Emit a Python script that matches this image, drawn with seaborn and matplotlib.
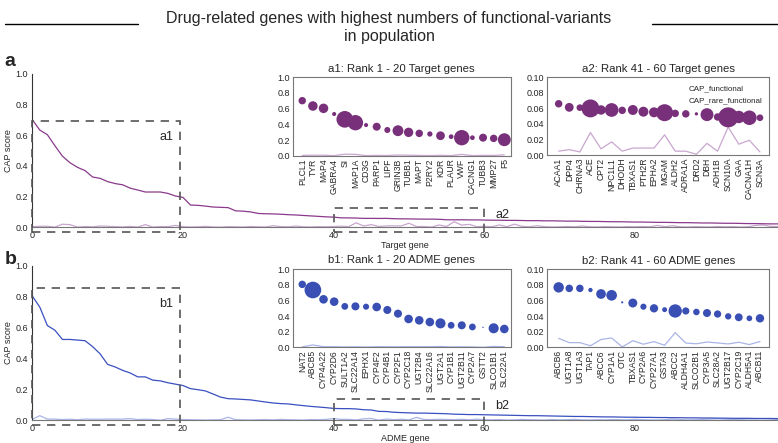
import numpy as np
import pandas as pd
import matplotlib
matplotlib.use("Agg")
import matplotlib.pyplot as plt
from matplotlib.patches import Rectangle
from matplotlib.lines import Line2D
import seaborn as sns

# ---------------- data ----------------
a1_genes = ["PLCL1", "TYR", "MAP4", "GABRA4", "SI", "MAP1A", "CD3G", "PARP1", "LIPF", "GRIN3B",
            "TUBB1", "MAPT", "P2RY2", "KDR", "PLAUR", "VWF", "CACNG1", "TUBB3", "MMP27", "F5"]
a2_genes = ["ACAA1", "DPP4", "CHRNA3", "ACE", "CPT2", "NPC1L1", "DHODH", "TBXAS1", "PTH2R", "EPHA2",
            "MGAM", "ALDH2", "ADRA1A", "DRD2", "DBH", "ADH1B", "SCN10A", "GAA", "CACNA1H", "SCN3A"]
b1_genes = ["NAT2", "ABCB5", "CYP4A22", "CYP2D6", "SULT1A2", "SLC22A14", "EPHX1", "CYP4F2", "CYP4B1", "CYP2F1",
            "CYP2C18", "UGT2B4", "SLC22A16", "UGT2A1", "CYP1B1", "UGT2B11", "CYP2A7", "GSTT2", "SLCO1B1", "SLC22A1"]
b2_genes = ["ABCB6", "UGT1A8", "UGT1A3", "TAP1", "ABCC6", "CYP1A1", "OTC", "TBXAS1", "CYP2A6", "CYP27A1",
            "GSTA3", "ABCC2", "ALDH4A1", "SLCO2B1", "CYP3A5", "SLC28A2", "UGT2B17", "CYP2C19", "ALDH5A1", "ABCB11"]

# Target genes: CAP_functional
t_func_1_20 = [0.702, 0.634, 0.604, 0.532, 0.464, 0.421, 0.391, 0.370, 0.328, 0.319,
               0.298, 0.285, 0.277, 0.255, 0.243, 0.230, 0.230, 0.230, 0.221, 0.204]
t_func_21_40 = [0.195, 0.145, 0.143, 0.138, 0.132, 0.130, 0.128, 0.107, 0.105, 0.100,
                0.090, 0.088, 0.087, 0.085, 0.082, 0.080, 0.077, 0.074, 0.071, 0.068]
t_func_41_60 = [0.066, 0.0614, 0.061, 0.060, 0.058, 0.058, 0.0575, 0.058, 0.0558, 0.055,
                0.0545, 0.0536, 0.053, 0.053, 0.052, 0.049, 0.0485, 0.049, 0.048, 0.048]
t_func_61_100 = [0.047, 0.046, 0.046, 0.045, 0.045, 0.044, 0.043, 0.043, 0.042, 0.042,
                 0.041, 0.040, 0.040, 0.039, 0.038, 0.038, 0.037, 0.036, 0.036, 0.035,
                 0.034, 0.034, 0.033, 0.032, 0.032, 0.031, 0.030, 0.030, 0.029, 0.028,
                 0.028, 0.027, 0.026, 0.026, 0.025, 0.024, 0.024, 0.023, 0.022, 0.022]
# Target genes: CAP_rare_functional
t_rare_1_20 = [0.004, 0.0065, 0.0065, 0.0012, 0.020, 0.017, 0.0012, 0.0046, 0.0026, 0.0085,
               0.0063, 0.004, 0.002, 0.0055, 0.0016, 0.017, 0.0016, 0.0046, 0.004, 0.012]
t_rare_21_40 = [0.004, 0.002, 0.003, 0.006, 0.002, 0.001, 0.004, 0.003, 0.002, 0.005,
                0.003, 0.002, 0.010, 0.004, 0.003, 0.008, 0.003, 0.002, 0.004, 0.003]
t_rare_41_60 = [0.005, 0.007, 0.004, 0.029, 0.008, 0.017, 0.005, 0.009, 0.009, 0.009,
                0.026, 0.005, 0.005, 0.001, 0.015, 0.005, 0.036, 0.014, 0.019, 0.004]
t_rare_61_100 = [0.006, 0.003, 0.015, 0.004, 0.020, 0.006, 0.003, 0.010, 0.004, 0.002,
                 0.003, 0.005, 0.003, 0.008, 0.003, 0.002, 0.004, 0.003, 0.002, 0.004,
                 0.003, 0.005, 0.003, 0.012, 0.004, 0.010, 0.003, 0.002, 0.004, 0.003,
                 0.002, 0.005, 0.003, 0.004, 0.002, 0.003, 0.012, 0.015, 0.006, 0.004]

# ADME genes: CAP_functional
d_func_1_20 = [0.804, 0.732, 0.613, 0.583, 0.523, 0.523, 0.519, 0.515, 0.477, 0.430,
               0.362, 0.345, 0.323, 0.306, 0.281, 0.281, 0.260, 0.255, 0.243, 0.234]
d_func_21_40 = [0.225, 0.205, 0.198, 0.190, 0.170, 0.150, 0.140, 0.138, 0.135, 0.132,
                0.125, 0.118, 0.112, 0.108, 0.106, 0.100, 0.095, 0.090, 0.086, 0.082]
d_func_41_60 = [0.0769, 0.0756, 0.0756, 0.0735, 0.0684, 0.0667, 0.0577, 0.0568, 0.0521, 0.050,
                0.0483, 0.0466, 0.0466, 0.0453, 0.044, 0.0427, 0.0397, 0.0385, 0.0372, 0.0372]
d_func_61_100 = [0.036, 0.035, 0.034, 0.033, 0.032, 0.031, 0.030, 0.030, 0.029, 0.028,
                 0.027, 0.026, 0.025, 0.025, 0.024, 0.023, 0.022, 0.022, 0.021, 0.020,
                 0.020, 0.019, 0.019, 0.018, 0.018, 0.017, 0.017, 0.016, 0.016, 0.015,
                 0.015, 0.014, 0.014, 0.013, 0.013, 0.013, 0.012, 0.012, 0.012, 0.011]
# ADME genes: CAP_rare_functional
d_rare_1_20 = [0.006, 0.030, 0.008, 0.008, 0.005, 0.007, 0.004, 0.008, 0.007, 0.007,
               0.008, 0.008, 0.008, 0.011, 0.005, 0.007, 0.005, 0.0002, 0.011, 0.008]
d_rare_21_40 = [0.005, 0.004, 0.003, 0.002, 0.003, 0.004, 0.020, 0.004, 0.003, 0.002,
                0.004, 0.005, 0.003, 0.006, 0.004, 0.003, 0.002, 0.005, 0.004, 0.006]
d_rare_41_60 = [0.0115, 0.006, 0.006, 0.002, 0.010, 0.012, 0.0005, 0.0085, 0.004, 0.0073,
                0.0026, 0.0188, 0.0055, 0.0045, 0.0068, 0.0056, 0.0043, 0.0065, 0.0035, 0.0075]
d_rare_61_100 = [0.004, 0.003, 0.005, 0.002, 0.003, 0.006, 0.004, 0.003, 0.002, 0.005,
                 0.003, 0.004, 0.006, 0.003, 0.002, 0.004, 0.003, 0.005, 0.004, 0.003,
                 0.007, 0.004, 0.003, 0.002, 0.004, 0.008, 0.005, 0.003, 0.004, 0.006,
                 0.008, 0.010, 0.007, 0.005, 0.006, 0.008, 0.009, 0.010, 0.008, 0.006]

main_xticks = [0, 20, 40, 60, 80]
main_yticks = [0.0, 0.2, 0.4, 0.6, 0.8, 1.0]
inset_small_yticks = [0.00, 0.02, 0.04, 0.06, 0.08, 0.10]

# ---------------- style ----------------
sns.set_style("white")
plt.rcParams["font.family"] = ["Liberation Sans", "DejaVu Sans"]

PURPLE_DOT = "#79307a"
PURPLE_LINE = "#8a3a8c"
PURPLE_LIGHT = "#c9a6cf"
BLUE_DOT = "#3a4fb4"
BLUE_LINE = "#3a50c0"
BLUE_LIGHT = "#a9b5e6"
BOX = "#555555"

fig = plt.figure(figsize=(7.78, 4.43), dpi=100)

# title
fig.text(0.5, 0.975, "Drug-related genes with highest numbers of functional-variants\nin population",
         ha="center", va="top", fontsize=11.5, linespacing=1.25)
fig.add_artist(Line2D([0.006, 0.178], [0.946, 0.946], color="black", lw=1.0))
fig.add_artist(Line2D([0.838, 1.0], [0.946, 0.946], color="black", lw=1.0))


def main_panel(rect, func, rare, c_line, c_light, xlabel, box1_top, box2_top, lab1, lab2, letter, letter_y):
    ax = fig.add_axes(rect)
    df = pd.DataFrame({"rank": np.arange(len(func)), "func": func, "rare": rare})
    sns.lineplot(data=df, x="rank", y="rare", ax=ax, color=c_light, lw=0.9, sort=False, estimator=None)
    sns.lineplot(data=df, x="rank", y="func", ax=ax, color=c_line, lw=0.9, sort=False, estimator=None)
    ax.set_xlim(0, 99)
    ax.set_ylim(0, 1.0)
    ax.set_xticks(main_xticks)
    ax.set_yticks(main_yticks)
    ax.set_yticklabels([f"{v:.1f}" for v in main_yticks])
    ax.tick_params(axis="both", labelsize=6.5, length=2, width=0.6, pad=1, color="#333333")
    ax.set_xlabel(xlabel, fontsize=6.5, labelpad=0.5)
    ax.set_ylabel("CAP score", fontsize=6.5, labelpad=2)
    for s in ["top", "right"]:
        ax.spines[s].set_visible(False)
    ax.spines["left"].set_color("#333333")
    ax.spines["bottom"].set_color("#777777")
    ax.spines["left"].set_linewidth(0.8)
    ax.spines["bottom"].set_linewidth(0.8)
    ax.set_facecolor("none")
    # dashed zoom boxes
    ax.add_patch(Rectangle((0, -0.03), 19.6, box1_top + 0.03, fill=False, ls=(0, (5, 4)),
                           lw=1.2, ec=BOX, clip_on=False, zorder=5))
    ax.add_patch(Rectangle((40, -0.03), 20, box2_top + 0.03, fill=False, ls=(0, (5, 4)),
                           lw=1.2, ec=BOX, clip_on=False, zorder=5))
    ax.text(18.7, box1_top - 0.1, lab1, fontsize=9, ha="right", va="center")
    ax.text(61.5, box2_top - 0.045, lab2, fontsize=9, ha="left", va="center")
    fig.text(0.006, letter_y, letter, fontsize=14, fontweight="bold", va="center")
    return ax


def inset(rect, genes, func, rare, c_dot, c_light, title, ylim, yticks, yfmt, xlim, smax, vmax, legend=False):
    ax = fig.add_axes(rect)
    df = pd.DataFrame({"pos": np.arange(len(genes)), "func": func, "rare": rare})
    sns.lineplot(data=df, x="pos", y="rare", ax=ax, color=c_light, lw=0.9, sort=False, estimator=None)
    sns.scatterplot(data=df, x="pos", y="func", size="rare", sizes=(0, smax), size_norm=(0, vmax),
                    ax=ax, color=c_dot, edgecolor="none", linewidth=0, legend=False, zorder=3)
    ax.set_xlim(*xlim)
    ax.set_ylim(*ylim)
    ax.set_xticks(df["pos"])
    ax.set_xticklabels(genes, rotation=90, fontsize=6.2)
    ax.set_yticks(yticks)
    ax.set_yticklabels([yfmt.format(v) for v in yticks], fontsize=6.5)
    ax.tick_params(axis="both", length=0, pad=2)
    ax.set_xlabel("")
    ax.set_ylabel("")
    ax.set_title(title, fontsize=8.2, pad=4)
    for s in ax.spines.values():
        s.set_color("#777777")
        s.set_linewidth(0.8)
    ax.set_facecolor("white")
    if legend:
        handles = [Line2D([], [], ls="none", label="CAP_functional"),
                   Line2D([], [], ls="none", label="CAP_rare_functional")]
        ax.legend(handles=handles, loc="upper right", frameon=False, fontsize=5.8,
                  handlelength=0, handletextpad=0, borderaxespad=0.1, labelspacing=0.6,
                  bbox_to_anchor=(0.985, 0.96))
    return ax


t_func = t_func_1_20 + t_func_21_40 + t_func_41_60 + t_func_61_100
t_rare = t_rare_1_20 + t_rare_21_40 + t_rare_41_60 + t_rare_61_100
d_func = d_func_1_20 + d_func_21_40 + d_func_41_60 + d_func_61_100
d_rare = d_rare_1_20 + d_rare_21_40 + d_rare_41_60 + d_rare_61_100

main_panel([0.0415, 0.487, 0.9585, 0.346], t_func, t_rare, PURPLE_LINE, PURPLE_LIGHT,
           "Target gene", 0.69, 0.128, "a1", "a2", "a", 0.862)
main_panel([0.0415, 0.0512, 0.9585, 0.349], d_func, d_rare, BLUE_LINE, BLUE_LIGHT,
           "ADME gene", 0.855, 0.137, "b1", "b2", "b", 0.415)

inset([0.3762, 0.6485, 0.2802, 0.177], a1_genes, t_func_1_20, t_rare_1_20, PURPLE_DOT, PURPLE_LIGHT,
      "a1: Rank 1 - 20 Target genes", (0, 1.0), main_yticks, "{:.1f}", (-0.9, 19.6), 144, 0.02)
inset([0.7035, 0.650, 0.2853, 0.1754], a2_genes, t_func_41_60, t_rare_41_60, PURPLE_DOT, PURPLE_LIGHT,
      "a2: Rank 41 - 60 Target genes", (0, 0.10), inset_small_yticks, "{:.2f}", (-1.07, 19.88), 207, 0.036,
      legend=True)
inset([0.3762, 0.216, 0.2802, 0.1767], b1_genes, d_func_1_20, d_rare_1_20, BLUE_DOT, BLUE_LIGHT,
      "b1: Rank 1 - 20 ADME genes", (0, 1.0), main_yticks, "{:.1f}", (-0.9, 19.6), 144, 0.03)
inset([0.7035, 0.216, 0.2853, 0.176], b2_genes, d_func_41_60, d_rare_41_60, BLUE_DOT, BLUE_LIGHT,
      "b2: Rank 41 - 60 ADME genes", (0, 0.10), inset_small_yticks, "{:.2f}", (-1.07, 19.88), 92, 0.0188)

fig.savefig("out.png", dpi=100)
